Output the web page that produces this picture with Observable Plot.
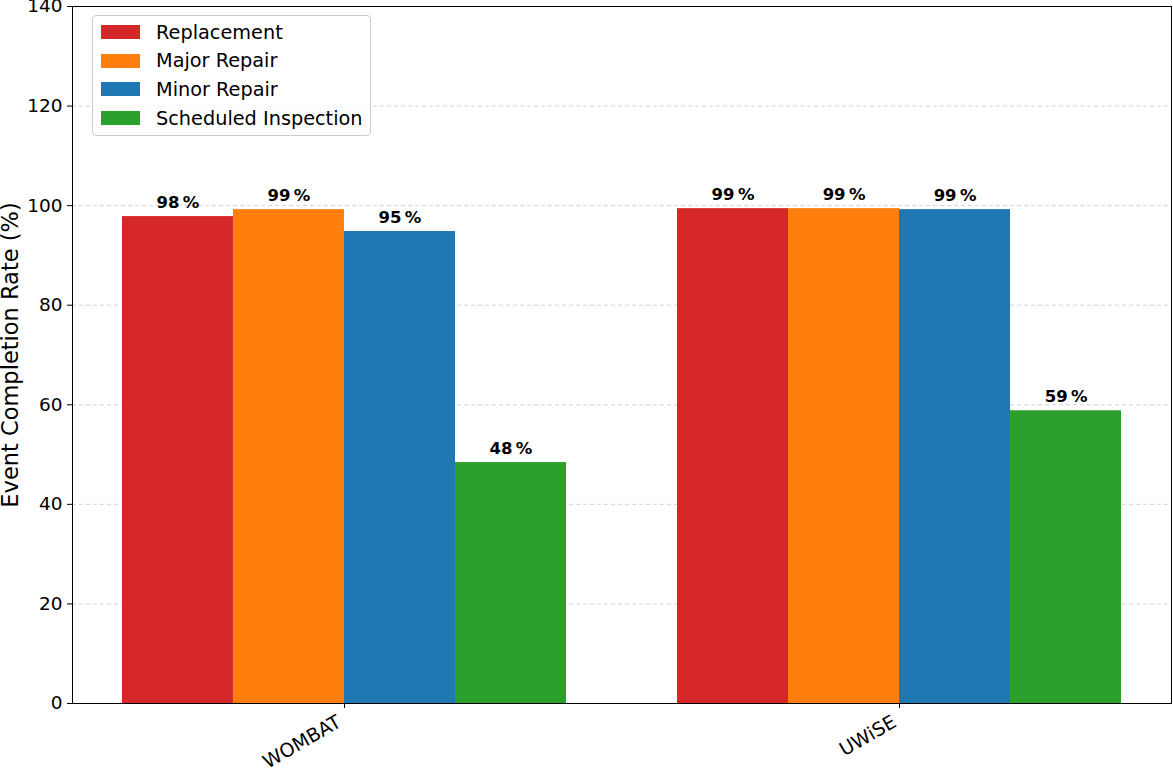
<!DOCTYPE html>
<html>
<head>
<meta charset="utf-8">
<script src="https://cdn.jsdelivr.net/npm/d3@7"></script>
<script src="https://cdn.jsdelivr.net/npm/@observablehq/plot@0.6"></script>
<style>
  body { margin: 0; background: #fff; font-family: "DejaVu Sans", sans-serif; }
  #wrap { position: relative; width: 1173px; height: 771px; }
  #legend { position: absolute; left: 92px; top: 15px; width: 277px; height: 119px;
    border: 1px solid #cccccc; border-radius: 4px; background: rgba(255,255,255,0.8);
    font-family: "DejaVu Sans", sans-serif; font-size: 19.3px; color: #000; }
  .item { position: absolute; left: 8px; height: 20px; display: flex; align-items: center; white-space: nowrap; }
  .sw { width: 39px; height: 14px; margin-right: 16px; }
</style>
</head>
<body>
<div id="wrap"></div>
<script>
const models = ["WOMBAT", "UWiSE"];
const eventTypes = ["Replacement", "Major Repair", "Minor Repair", "Scheduled Inspection"];
const colors = ["#d62728", "#ff7f0e", "#1f77b4", "#2ca02c"];
const wombatValues = [97.8, 99.2, 94.8, 48.4];
const uwiseValues = [99.4, 99.4, 99.2, 58.8];
const yTicks = [0, 20, 40, 60, 80, 100, 120, 140];
const yLabel = "Event Completion Rate (%)";
const barWidth = 0.2;

const seriesValues = [wombatValues, uwiseValues];
const data = [];
models.forEach((m, gi) => {
  eventTypes.forEach((t, j) => {
    const start = gi + (j - eventTypes.length / 2) * barWidth;
    data.push({model: m, type: t, value: seriesValues[gi][j], x1: start, x2: start + barWidth, xc: start + barWidth / 2});
  });
});
const xMin = -eventTypes.length / 2 * barWidth;
const xMax = models.length - 1 + eventTypes.length / 2 * barWidth;
const pad = (xMax - xMin) * 0.05;
const groupTicks = models.map((m, i) => i);

const font = "DejaVu Sans, sans-serif";
const chart = Plot.plot({
  width: 1173,
  height: 771,
  marginLeft: 72,
  marginRight: 2,
  marginTop: 6,
  marginBottom: 68,
  style: {fontFamily: font, fontSize: "18px", color: "#000", background: "#fff", overflow: "visible"},
  x: {domain: [xMin - pad, xMax + pad], label: null},
  y: {domain: [0, 140], ticks: yTicks, label: null},
  color: {domain: eventTypes, range: colors},
  marks: [
    Plot.gridY(yTicks, {stroke: "#b0b0b0", strokeOpacity: 0.7, strokeDasharray: "4,3", strokeWidth: 0.8}),
    Plot.rectY(data, {x1: "x1", x2: "x2", y: "value", fill: "type"}),
    Plot.text(data, {x: "xc", y: "value",
      text: d => `${Math.round(d.value)}\u2009%`, lineAnchor: "bottom", dy: -9,
      fontWeight: "bold", fontSize: 16.5, fill: "#000"}),
    Plot.axisY({ticks: yTicks, tickSize: 5, tickPadding: 5, fontSize: 18.5, label: null}),
    Plot.text([yLabel], {frameAnchor: "left", textAnchor: "middle", rotate: -90, dx: -62, fontSize: 22.5, fill: "#000"}),
    Plot.axisX(groupTicks, {tickSize: 5, tickFormat: () => "", label: null}),
    Plot.axisX(groupTicks, {tickSize: 0, tickRotate: -30, fontSize: 19, label: null, tickPadding: 11,
      dx: -5, dy: 6, tickFormat: i => models[i]}),
    Plot.frame({stroke: "#000", strokeWidth: 1})
  ]
});
const wrap = document.getElementById("wrap");
wrap.appendChild(chart);

const legend = document.createElement("div");
legend.id = "legend";
eventTypes.forEach((t, i) => {
  const it = document.createElement("div");
  it.className = "item";
  it.style.top = (6 + i * 28.7) + "px";
  const sw = document.createElement("div");
  sw.className = "sw";
  sw.style.background = colors[i];
  const tx = document.createElement("span");
  tx.textContent = t;
  it.appendChild(sw); it.appendChild(tx);
  legend.appendChild(it);
});
wrap.appendChild(legend);
</script>
</body>
</html>
